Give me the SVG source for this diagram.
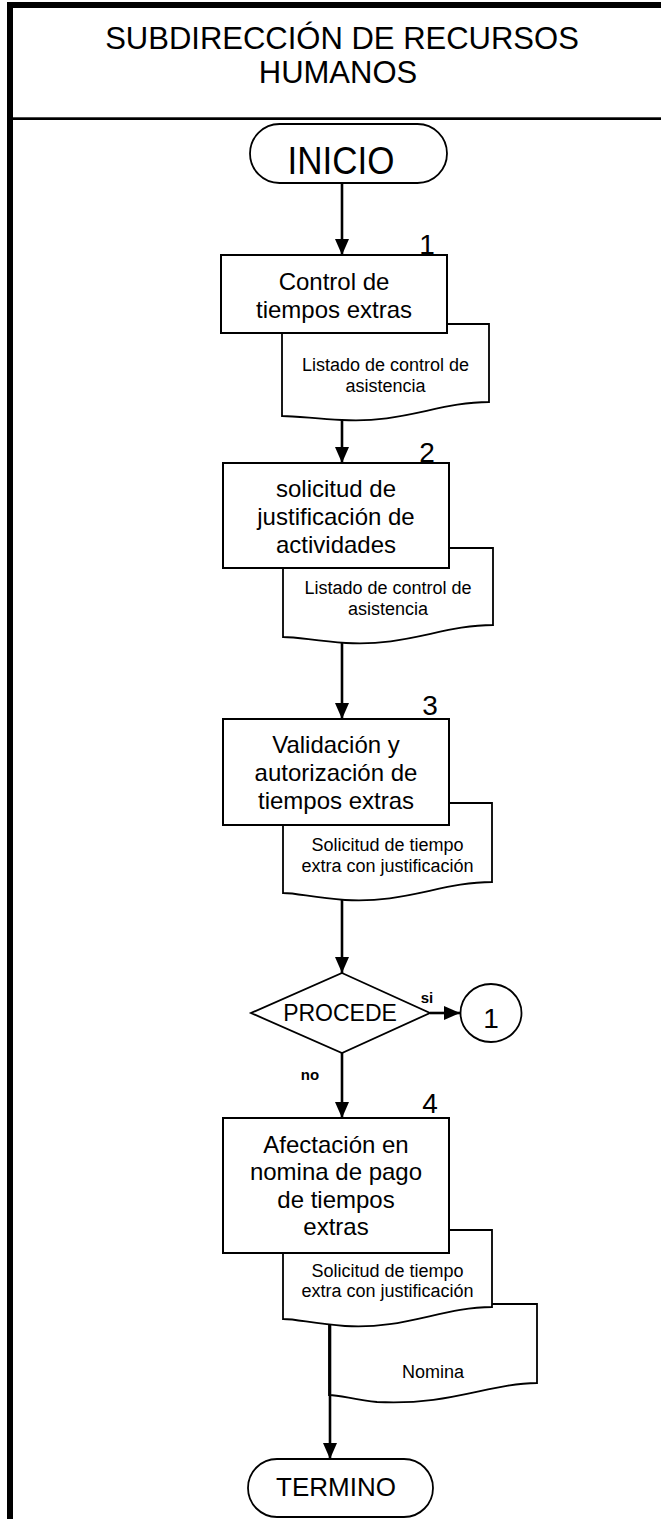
<svg xmlns="http://www.w3.org/2000/svg" width="661" height="1519" viewBox="0 0 661 1519">
<style>
text{font-family:"Liberation Sans",Arial,sans-serif;fill:#000;text-anchor:middle}
.box{fill:#fff;stroke:#000;stroke-width:2}
.doc{fill:#fff;stroke:#000;stroke-width:1.8}
.term{fill:#fff;stroke:#000;stroke-width:1.8}
.bt{font-size:24px}
.dt{font-size:18px}
.num{font-size:28px}
.lbl{font-size:15px;font-weight:bold}
.con{stroke:#000;stroke-width:2.6;fill:none;marker-end:url(#ah)}
</style>
<defs>
<marker id="ah" markerWidth="16" markerHeight="14" refX="16" refY="7" orient="auto" markerUnits="userSpaceOnUse">
<path d="M0,0 L16,7 L0,14 Z" fill="#000"/>
</marker>
</defs>
<rect width="661" height="1519" fill="#fff"/>
<g id="frame">
<rect x="7" y="2" width="654" height="6" fill="#000"/>
<rect x="7" y="2" width="6" height="1517" fill="#000"/>
<rect x="13" y="117.3" width="648" height="2.7" fill="#000"/>
</g>
<g id="header">
<text x="342" y="49" style="font-size:31px">SUBDIRECCIÓN DE RECURSOS</text>
<text x="338" y="83" style="font-size:31px">HUMANOS</text>
</g>
<g id="inicio">
<rect class="term" x="250" y="124" width="197" height="59" rx="29.5"/>
<text transform="translate(341,174) scale(1,1.1)" x="0" y="0" style="font-size:35px">INICIO</text>
</g>
<g id="doc1">
<path class="doc" d="M282,324 H489 V402 C440,402 400,424 342,420 C310,418 295,416 282,416 Z"/>
<text class="dt" x="385.5" y="371">Listado de control de</text>
<text class="dt" x="385.5" y="392">asistencia</text>
</g>
<g id="step1">
<rect class="box" x="221" y="255" width="226" height="78"/>
<text class="bt" x="334" y="290">Control de</text>
<text class="bt" x="334" y="318">tiempos extras</text>
<text class="num" x="427" y="254">1</text>
</g>
<g id="doc2">
<path class="doc" d="M283,548 H493 V625 C444,625 404,647 346,643 C314,641 299,637 283,637 Z"/>
<text class="dt" x="388" y="594">Listado de control de</text>
<text class="dt" x="388" y="615">asistencia</text>
</g>
<g id="step2">
<rect class="box" x="223" y="463" width="226" height="105"/>
<text class="bt" x="336" y="497">solicitud de</text>
<text class="bt" x="336" y="525">justificación de</text>
<text class="bt" x="336" y="553">actividades</text>
<text class="num" x="427" y="462">2</text>
</g>
<g id="doc3">
<path class="doc" d="M283,803 H492 V882 C443,882 403,904 345,900 C313,898 298,893 283,893 Z"/>
<text class="dt" x="387.5" y="851">Solicitud de tiempo</text>
<text class="dt" x="387.5" y="872">extra con justificación</text>
</g>
<g id="step3">
<rect class="box" x="223" y="719" width="226" height="106"/>
<text class="bt" x="336" y="753">Validación y</text>
<text class="bt" x="336" y="781">autorización de</text>
<text class="bt" x="336" y="809">tiempos extras</text>
<text class="num" x="430" y="715">3</text>
</g>
<g id="decision">
<path class="doc" d="M342,973 L430,1013 L342,1053 L251,1013 Z"/>
<text x="340" y="1021" style="font-size:23px">PROCEDE</text>
</g>
<g id="connector1">
<ellipse class="term" cx="491" cy="1013" rx="30.5" ry="29"/>
<text class="num" x="491" y="1028">1</text>
</g>
<g id="doc5">
<path class="doc" d="M329,1304 H537 V1383 C490,1383 450,1406 377,1402 C355,1400 340,1395 329,1395 Z"/>
<text class="dt" x="433" y="1378">Nomina</text>
</g>
<g id="doc4">
<path class="doc" d="M283,1230 H492 V1307 C443,1307 403,1330 345,1326 C313,1324 298,1319 283,1319 Z"/>
<text class="dt" x="387.5" y="1277">Solicitud de tiempo</text>
<text class="dt" x="387.5" y="1297">extra con justificación</text>
</g>
<g id="step4">
<rect class="box" x="223" y="1118" width="226" height="135"/>
<text class="bt" x="336" y="1153">Afectación en</text>
<text class="bt" x="336" y="1180">nomina de pago</text>
<text class="bt" x="336" y="1208">de tiempos</text>
<text class="bt" x="336" y="1235">extras</text>
<text class="num" x="430" y="1113">4</text>
</g>
<g id="termino">
<rect class="term" x="248" y="1459" width="185" height="58" rx="29"/>
<text x="336" y="1496" style="font-size:26px">TERMINO</text>
</g>
<g id="connectors">
<line class="con" x1="342" y1="183" x2="342" y2="255"/>
<line class="con" x1="342" y1="420" x2="342" y2="463"/>
<line class="con" x1="342" y1="643" x2="342" y2="719"/>
<line class="con" x1="342" y1="900" x2="342" y2="973"/>
<line class="con" x1="430" y1="1013" x2="460" y2="1013"/>
<line class="con" x1="342" y1="1053" x2="342" y2="1118"/>
<line class="con" x1="330" y1="1325" x2="330" y2="1459"/>
<text class="lbl" x="427" y="1003">si</text>
<text class="lbl" x="310" y="1080">no</text>
</g>
</svg>
